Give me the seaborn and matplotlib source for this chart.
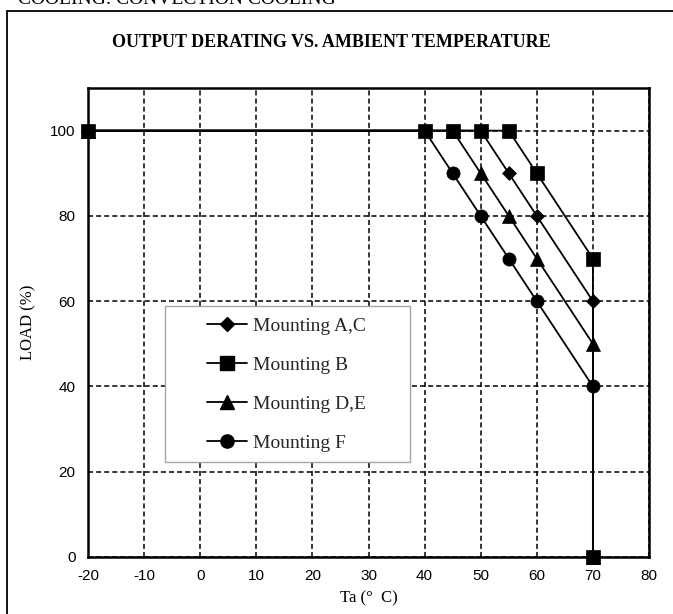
import matplotlib
matplotlib.use("Agg")
import matplotlib.pyplot as plt
import seaborn as sns
import pandas as pd
from matplotlib.patches import Rectangle
from matplotlib.lines import Line2D

# ---------------- data ----------------
ta_ac = [-20, 50, 55, 60, 70, 70]
load_ac = [100, 100, 90, 80, 60, 0]

ta_b = [-20, 40, 45, 50, 55, 60, 70, 70]
load_b = [100, 100, 100, 100, 100, 90, 70, 0]

ta_de = [-20, 45, 50, 55, 60, 70, 70]
load_de = [100, 100, 90, 80, 70, 50, 0]

ta_f = [-20, 40, 45, 50, 55, 60, 70, 70]
load_f = [100, 100, 90, 80, 70, 60, 40, 0]

labels = ["Mounting A,C", "Mounting B", "Mounting D,E", "Mounting F"]
x_ticks = [-20, -10, 0, 10, 20, 30, 40, 50, 60, 70, 80]
y_ticks = [0, 20, 40, 60, 80, 100]

title = "OUTPUT DERATING VS. AMBIENT TEMPERATURE"
header = "COOLING: CONVECTION COOLING"

# ---------------- style ----------------
sns.set_theme(style="white")
plt.rcParams["font.family"] = ["Liberation Serif", "DejaVu Serif"]

W, H = 673, 614
fig = plt.figure(figsize=(W / 100, H / 100), dpi=100)
ax = fig.add_axes([88 / W, 1 - 557 / H, 561 / W, 469 / H])

series = {
    "Mounting A,C": (ta_ac, load_ac, "D", 7.5),
    "Mounting B": (ta_b, load_b, "s", 9.5),
    "Mounting D,E": (ta_de, load_de, "^", 10.0),
    "Mounting F": (ta_f, load_f, "o", 9.5),
}
draw_order = ["Mounting F", "Mounting D,E", "Mounting A,C", "Mounting B"]
for name in draw_order:
    xs, ys, mk, ms = series[name]
    df = pd.DataFrame({"Ta": xs, "Load": ys})
    sns.lineplot(data=df, x="Ta", y="Load", ax=ax, sort=False, estimator=None,
                 color="black", linewidth=1.3, marker=mk, markersize=ms,
                 markerfacecolor="black", markeredgecolor="black",
                 markeredgewidth=0.5, clip_on=False, zorder=3, legend=False)

ax.set_xlim(-20, 80)
ax.set_ylim(0, 110)
ax.set_xticks(x_ticks)
ax.set_yticks(y_ticks)
ax.set_xticklabels([str(v) for v in x_ticks], family="Liberation Sans", fontsize=11, color="black")
ax.set_yticklabels([str(v) for v in y_ticks], family="Liberation Sans", fontsize=11, color="black")
ax.tick_params(axis="both", length=0, pad=9)

ax.grid(True, color="black", linestyle=(0, (3.3, 2)), linewidth=1.1)
ax.set_axisbelow(True)
for sp in ax.spines.values():
    sp.set_visible(True)
    sp.set_color("black")
    sp.set_linewidth(1.8)

ax.set_xlabel("Ta (°  C)", fontsize=12, color="black")
ax.set_ylabel("LOAD (%)", fontsize=12, color="black")
ax.xaxis.set_label_coords(0.5, -0.072)
ax.yaxis.set_label_coords(-0.092, 0.5)

# legend box
ax.add_patch(Rectangle((165 / W, 1 - 462 / H), 245 / W, 156 / H, transform=fig.transFigure,
                       facecolor="white", edgecolor="#a6a6a6", linewidth=1.0,
                       zorder=1.5, clip_on=False))
handles = []
for name in labels:
    _, _, mk, ms = series[name]
    handles.append(Line2D([], [], color="black", linewidth=1.3, marker=mk, markersize=ms,
                          markerfacecolor="black", markeredgecolor="black"))
ax.legend(handles, labels, loc="upper left", bbox_to_anchor=(207 / W, 1 - 317 / H),
          bbox_transform=fig.transFigure, frameon=False, borderpad=0, borderaxespad=0,
          handlelength=2.06, handletextpad=0.3, labelspacing=1.1,
          prop={"family": "Liberation Serif", "size": 14})

# outer border, title, cut-off header
fig.add_artist(Rectangle((7 / W, -0.5), 2, 1 - 11 / H + 0.5, transform=fig.transFigure,
                         fill=False, edgecolor="black", linewidth=1.3))
fig.text(331 / W, 1 - 47 / H, title, ha="center", va="baseline",
         fontweight="bold", fontsize=13, color="black")
fig.text(18 / W, 1 - 4 / H, header, ha="left", va="baseline", fontsize=14, color="black")

fig.savefig("out.png", dpi=100)
